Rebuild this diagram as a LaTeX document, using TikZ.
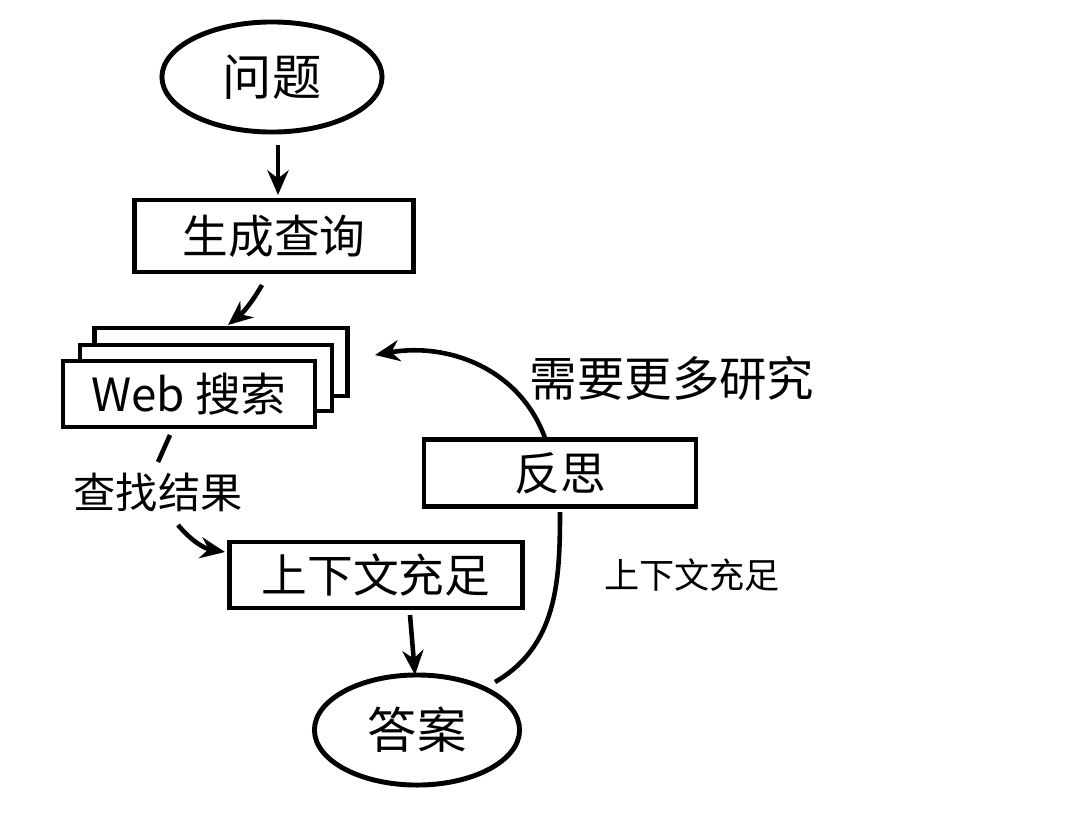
\documentclass[tikz,border=0pt]{standalone}
\usepackage{fontspec}
\setmainfont{Noto Sans CJK SC}
\usetikzlibrary{shapes.geometric,arrows.meta}
\tikzset{
  box/.style={draw, line width=1.3pt, fill=white, minimum width=2.8cm, minimum height=0.7cm, font=\fontsize{13}{15}\selectfont},
  oval/.style={draw, ellipse, line width=1.4pt, minimum width=2.2cm, minimum height=1.1cm, font=\fontsize{14}{16}\selectfont},
  flow/.style={line width=1.3pt, -{Stealth[length=7pt,width=6pt]}},
  lbl/.style={font=\fontsize{10}{12}\selectfont}
}
\begin{document}
\begin{tikzpicture}[x=0.01cm,y=-0.01cm]
  \useasboundingbox (0,0) rectangle (1080,812);

  \node[oval] (question) at (272,77) {问题};
  \node[box, minimum width=2.79cm, minimum height=0.72cm] (query) at (274,236) {生成查询};

  % stacked search boxes
  \node[box, minimum width=2.53cm, minimum height=0.68cm] (back) at (221,362) {};
  \node[box, minimum width=2.52cm, minimum height=0.66cm] (mid) at (206,378) {};
  \node[box, minimum width=2.52cm, minimum height=0.65cm] (search) at (189,394) {Web 搜索};

  \node[box, minimum width=2.93cm, minimum height=0.64cm] (enough) at (376,575) {上下文充足};
  \node[box, minimum width=2.72cm, minimum height=0.67cm] (reflect) at (560,473) {反思};
  \node[oval, minimum width=2.05cm] (answer) at (417,730) {答案};

  \node[lbl, font=\fontsize{12}{14}\selectfont] (find) at (158,492) {查找结果};
  \node[lbl, font=\fontsize{13.5}{16}\selectfont] (more) at (672,378) {需要更多研究};
  \node[lbl] (suff) at (692,575) {上下文充足};

  \coordinate (c1) at (170,435);
  \coordinate (c2) at (158,462);
  \coordinate (f1) at (178,525);
  \coordinate (r1) at (545,438);
  \coordinate (r2) at (560,512);
  \coordinate (a1) at (495,682);

  \draw[flow] (278,145) -- (278,195);
  \draw[flow] (262,285) to[bend left=10] (228,325);
  \draw[line width=1.3pt] (c1) -- (c2);
  \draw[flow] (f1) to[bend right=20] (225,552);
  \draw[flow] (410,615) -- (415,675);
  \draw[line width=1.3pt] (a1) to[out=30,in=-90] (r2);
  \draw[flow] (r1) to[out=110,in=10] (375,355);
\end{tikzpicture}
\end{document}
